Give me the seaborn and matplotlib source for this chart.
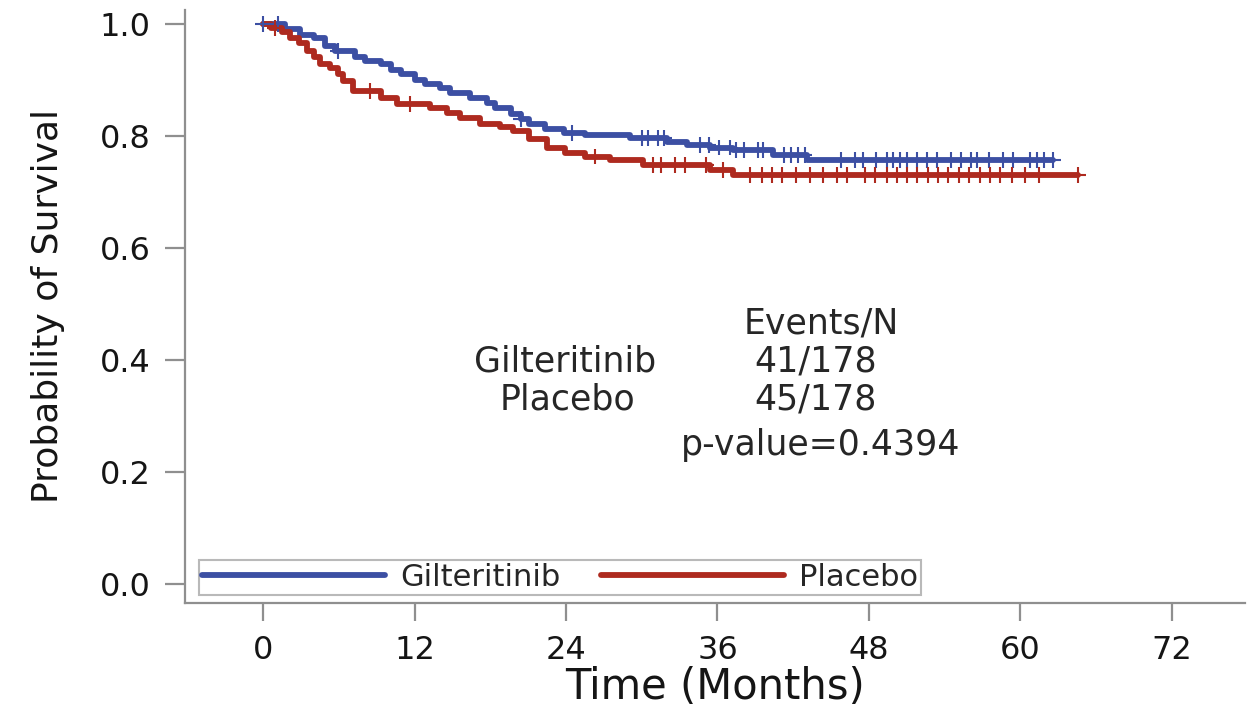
import numpy as np
import pandas as pd
import matplotlib
matplotlib.use("Agg")
import matplotlib.pyplot as plt
import seaborn as sns

# ---- data ----
arms = ["Gilteritinib", "Placebo"]

gil_time = [0, 1.7, 2.9, 4.0, 4.9, 5.7, 7.3, 8.1, 9.3, 10.1, 10.9, 12.0, 12.8, 14.0,
            14.8, 16.4, 17.7, 18.4, 19.6, 20.4, 21.1, 22.3, 23.8, 25.5, 29.1, 32.0,
            33.6, 35.4, 37.2, 40.4, 43.1]
gil_surv = [1.0, 0.99, 0.98, 0.975, 0.96, 0.952, 0.94, 0.934, 0.928, 0.918, 0.91, 0.90,
            0.893, 0.885, 0.877, 0.868, 0.858, 0.85, 0.839, 0.83, 0.821, 0.813, 0.805,
            0.802, 0.796, 0.789, 0.784, 0.779, 0.775, 0.766, 0.757]
gil_end = 62.6
gil_cens = [0.0, 1.2, 5.9, 20.4, 24.5, 30.0, 30.5, 31.3, 31.8, 34.6, 35.3, 36.1, 37.0,
            37.5, 38.1, 39.2, 39.6, 41.3, 41.8, 42.4, 42.9, 45.8, 46.9, 47.5, 48.6, 49.4,
            49.9, 50.5, 51.0, 51.8, 52.6, 53.4, 54.5, 55.3, 56.1, 56.6, 57.5, 58.6, 59.4,
            60.8, 61.3, 61.9, 62.6]

pla_time = [0, 0.6, 1.5, 2.1, 2.8, 3.5, 4.0, 4.5, 5.3, 5.9, 6.3, 7.1, 9.3, 10.6, 13.2,
            14.6, 15.6, 17.2, 18.8, 19.8, 21.1, 22.5, 23.9, 25.5, 27.5, 30.1, 35.4, 37.2]
pla_surv = [1.0, 0.993, 0.985, 0.975, 0.965, 0.952, 0.94, 0.928, 0.921, 0.91, 0.898,
            0.88, 0.868, 0.857, 0.85, 0.84, 0.832, 0.821, 0.815, 0.809, 0.795, 0.778,
            0.77, 0.763, 0.757, 0.748, 0.739, 0.730]
pla_end = 64.6
pla_cens = [0.9, 8.5, 11.6, 26.3, 30.9, 31.5, 32.6, 33.4, 35.1, 36.4, 38.6, 39.5, 40.3,
            41.1, 42.2, 43.3, 44.4, 45.5, 46.3, 47.7, 48.5, 49.4, 50.2, 51.0, 51.8, 52.7,
            53.5, 54.3, 55.1, 55.9, 56.8, 57.6, 58.4, 59.3, 60.4, 61.5, 64.6]

events_n = ["41/178", "45/178"]
p_value = "p-value=0.4394"
x_ticks = [0, 12, 24, 36, 48, 60, 72]
y_ticks = [0.0, 0.2, 0.4, 0.6, 0.8, 1.0]

colors = {"Gilteritinib": "#3C4FA3", "Placebo": "#AE2A1F"}

# ---- build tables ----
def step_table(arm, t, s, end):
    tt = list(t) + [end]
    ss = list(s) + [s[-1]]
    return pd.DataFrame({"time": tt, "surv": ss, "arm": arm})

def cens_table(arm, t, s, ct):
    t = np.asarray(t); s = np.asarray(s); ct = np.asarray(ct)
    idx = np.searchsorted(t, ct, side="right") - 1
    return pd.DataFrame({"time": ct, "surv": s[idx], "arm": arm})

curves = pd.concat([step_table("Gilteritinib", gil_time, gil_surv, gil_end),
                    step_table("Placebo", pla_time, pla_surv, pla_end)], ignore_index=True)
cens = pd.concat([cens_table("Gilteritinib", gil_time, gil_surv, gil_cens),
                  cens_table("Placebo", pla_time, pla_surv, pla_cens)], ignore_index=True)

# ---- plot ----
sns.set_theme(style="white")
plt.rcParams["font.family"] = ["DejaVu Sans"]

fig = plt.figure(figsize=(12.53, 7.19), dpi=100)
ax = fig.add_axes([0.1476, 0.1613, 0.846, 0.825])

sns.lineplot(data=curves, x="time", y="surv", hue="arm", hue_order=arms,
             palette=colors, drawstyle="steps-post", linewidth=4.2,
             estimator=None, ax=ax)
sns.scatterplot(data=cens, x="time", y="surv", hue="arm", hue_order=arms,
                palette=colors, marker="+", s=125, linewidth=1.5,
                legend=False, ax=ax, zorder=3)

ax.set_xlim(-6.2, 77.8)
ax.set_ylim(-0.034, 1.025)
ax.set_xticks(x_ticks)
ax.set_xticklabels([str(v) for v in x_ticks])
ax.set_yticks(y_ticks)
ax.set_yticklabels([f"{v:.1f}" for v in y_ticks])

spine_c = "#8f8f8f"
for side in ["top", "right"]:
    ax.spines[side].set_visible(False)
for side in ["left", "bottom"]:
    ax.spines[side].set_color(spine_c)
    ax.spines[side].set_linewidth(1.6)
ax.tick_params(axis="both", colors=spine_c, labelcolor="#151515", width=1.6,
               labelsize=23, direction="out")
ax.tick_params(axis="x", length=13, pad=10)
ax.tick_params(axis="y", length=14.5, pad=10)
ax.tick_params(left=True, bottom=True)

ax.set_xlabel("Time (Months)", fontsize=30, color="#151515", labelpad=0)
ax.set_ylabel("Probability of Survival", fontsize=26, color="#151515", labelpad=25)

# annotation table
tc = "#262626"
ax.text(44.2, 0.448, "Events/N", fontsize=25, ha="center", va="baseline", color=tc)
ax.text(23.9, 0.379, arms[0], fontsize=25, ha="center", va="baseline", color=tc)
ax.text(43.8, 0.379, events_n[0], fontsize=25, ha="center", va="baseline", color=tc)
ax.text(24.1, 0.311, arms[1], fontsize=25, ha="center", va="baseline", color=tc)
ax.text(43.8, 0.311, events_n[1], fontsize=25, ha="center", va="baseline", color=tc)
ax.text(44.2, 0.230, p_value, fontsize=25, ha="center", va="baseline", color=tc)

handles, labels = ax.get_legend_handles_labels()
leg = ax.legend(handles, labels, loc="lower left", bbox_to_anchor=(0.0132, 0.0135),
                ncol=2, frameon=True, fancybox=False, edgecolor="#a8a8a8",
                fontsize=22, handlelength=6.0, handletextpad=0.5,
                columnspacing=1.3, borderpad=0.1, borderaxespad=0)
leg.get_frame().set_linewidth(1.5)
for t in leg.get_texts():
    t.set_color("#262626")

fig.savefig("out.png", dpi=100)
